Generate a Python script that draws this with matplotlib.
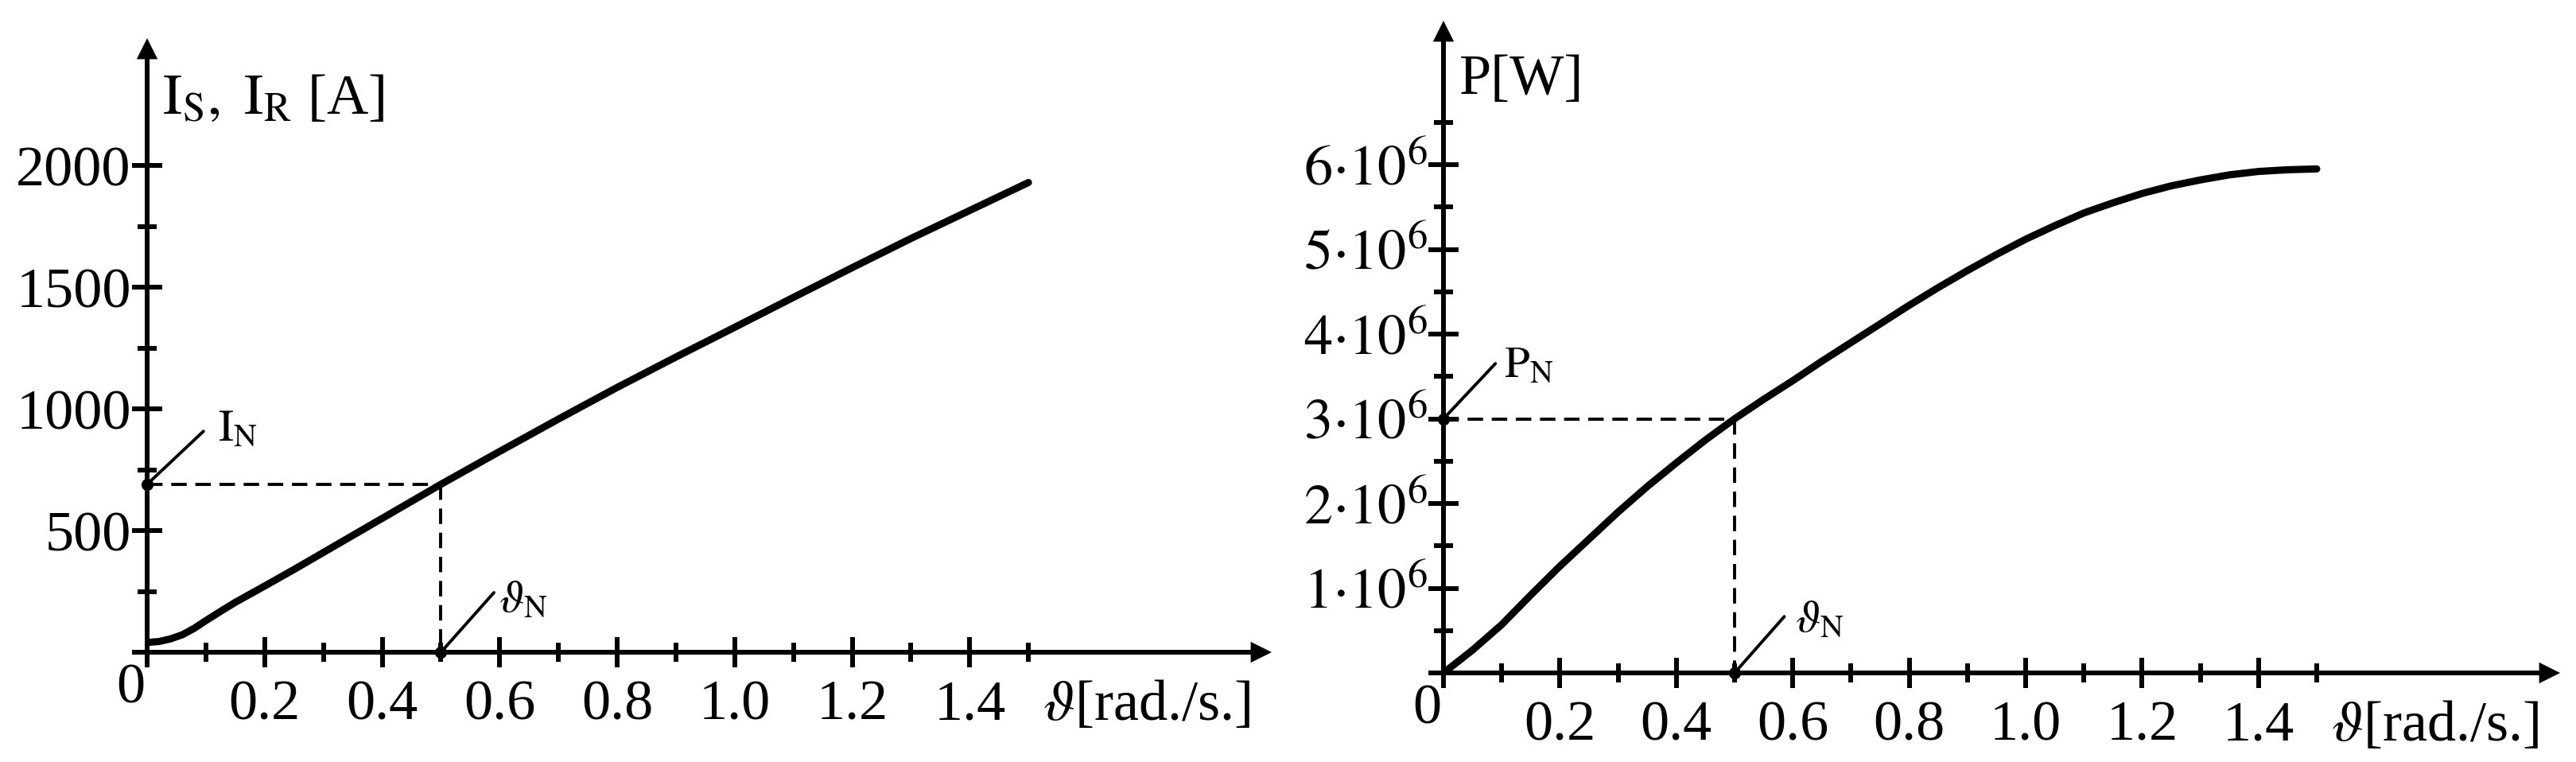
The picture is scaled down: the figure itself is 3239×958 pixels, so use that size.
#!/usr/bin/env python3
"""Stator/rotor current and power vs angle - two panel sketch-style chart."""

import matplotlib
matplotlib.use("Agg")  # non-interactive backend
import matplotlib.pyplot as plt
from matplotlib.ticker import FixedLocator, FixedFormatter

plt.rcParams['font.family'] = ['Liberation Serif', 'DejaVu Serif']
plt.rcParams['mathtext.fontset'] = 'stix'

# ── Data ───────────────────────────────────────────────────────────────
theta_i = [0.0, 0.02, 0.04, 0.06, 0.08, 0.10, 0.125, 0.15, 0.20, 0.25,
           0.30, 0.35, 0.40, 0.45, 0.50, 0.60, 0.70, 0.80, 0.90, 1.00,
           1.10, 1.20, 1.30, 1.40, 1.50]
current = [40, 44, 55, 72, 98, 130, 168, 205, 272, 340,
           410, 480, 550, 620, 690, 825, 958, 1088, 1213, 1335,
           1458, 1580, 1700, 1815, 1930]

theta_p = [0.00, 0.05, 0.10, 0.15, 0.20, 0.25, 0.30, 0.35, 0.40, 0.45,
           0.50, 0.55, 0.60, 0.65, 0.70, 0.75, 0.80, 0.85, 0.90, 0.95,
           1.00, 1.05, 1.10, 1.15, 1.20, 1.25, 1.30, 1.35, 1.40, 1.45, 1.50]
power = [0.00e6, 0.27e6, 0.57e6, 0.92e6, 1.26e6, 1.58e6, 1.90e6, 2.20e6, 2.48e6, 2.75e6,
         3.00e6, 3.23e6, 3.45e6, 3.68e6, 3.90e6, 4.12e6, 4.34e6, 4.55e6, 4.75e6, 4.94e6,
         5.12e6, 5.28e6, 5.43e6, 5.55e6, 5.66e6, 5.75e6, 5.82e6, 5.88e6, 5.92e6, 5.94e6, 5.95e6]

theta_n = 0.5
current_n = 690
power_n = 3.0e6

x_major = [0, 0.2, 0.4, 0.6, 0.8, 1.0, 1.2, 1.4]
x_labels = ['', '0.2', '0.4', '0.6', '0.8', '1.0', '1.2', '1.4']
x_minor = [0.1, 0.3, 0.5, 0.7, 0.9, 1.1, 1.3, 1.5]

i_major = [0, 500, 1000, 1500, 2000]
i_labels = ['', '500', '1000', '1500', '2000']
i_minor = [250, 750, 1250, 1750]

p_major = [0, 1e6, 2e6, 3e6, 4e6, 5e6, 6e6]
p_labels = [''] + [r'$\mathrm{%d{\cdot}10^{6}}$' % k for k in range(1, 7)]
p_minor = [0.5e6, 1.5e6, 2.5e6, 3.5e6, 4.5e6, 5.5e6, 6.5e6]

# ── Layout ─────────────────────────────────────────────────────────────
W, H = 3239, 958
fig = plt.figure(figsize=(W / 100, H / 100), dpi=100)


def px_axes(left, right, bottom, top):
    # pixel coordinates measured from the top-left corner of the image
    return fig.add_axes([left / W, 1 - bottom / H, (right - left) / W, (bottom - top) / H])


LW_AX = 4.3
LW_THIN = 2.8
FS = 52
FS_ANN = 41


def style_axes(ax, xmax, ymax, xmaj, xlab, xmin, ymaj, ylab, ymin):
    ax.set_xlim(0, xmax)
    ax.set_ylim(0, ymax)
    ax.patch.set_visible(False)
    for s in ['top', 'right']:
        ax.spines[s].set_visible(False)
    for s in ['left', 'bottom']:
        ax.spines[s].set_linewidth(LW_AX)
        ax.spines[s].set_capstyle('butt')
    ax.spines['bottom'].set_bounds(0, xmax * 0.99)
    ax.spines['left'].set_bounds(0, ymax * 0.99)
    ax.xaxis.set_major_locator(FixedLocator(xmaj))
    ax.xaxis.set_major_formatter(FixedFormatter(xlab))
    ax.xaxis.set_minor_locator(FixedLocator(xmin))
    ax.yaxis.set_major_locator(FixedLocator(ymaj))
    ax.yaxis.set_major_formatter(FixedFormatter(ylab))
    ax.yaxis.set_minor_locator(FixedLocator(ymin))
    ax.tick_params(which='major', direction='inout', length=27, width=LW_AX, labelsize=FS)
    ax.tick_params(which='minor', direction='inout', length=17, width=LW_AX)
    ax.tick_params(axis='x', which='major', pad=11)
    ax.tick_params(axis='y', which='major', pad=1)

    # arrow heads on both axes
    head = dict(arrowstyle='-|>,head_length=1.9,head_width=0.95', mutation_scale=10,
                color='k', lw=0, shrinkA=0, shrinkB=0)
    ax.annotate('', xy=(1, 0), xycoords=ax.get_yaxis_transform(),
                xytext=(-30, 0), textcoords='offset points', arrowprops=head)
    ax.annotate('', xy=(0, 1), xycoords=ax.get_xaxis_transform(),
                xytext=(0, -30), textcoords='offset points', arrowprops=head)

    # origin label and x-axis label
    ax.annotate('0', xy=(0, 0), xytext=(-15, -46), textcoords='offset points',
                ha='center', va='baseline', fontsize=FS)
    ax.annotate(r'$\vartheta$[rad./s.]', xy=(1.524, 0), xytext=(0, -61),
                textcoords='offset points', ha='left', va='baseline', fontsize=FS)


def marker(ax, x, y, text, line_end, text_off):
    ax.plot([x], [y], 'o', color='k', ms=10, clip_on=False, zorder=5)
    ax.annotate('', xy=(x, y), xytext=line_end, textcoords='offset points',
                arrowprops=dict(arrowstyle='-', lw=LW_THIN, color='k', shrinkA=0, shrinkB=0))
    ax.annotate(text, xy=(x, y), xytext=text_off, textcoords='offset points',
                ha='left', va='baseline', fontsize=FS_ANN)


DASH = (0, (5, 2.8))

# ── Left: current ──────────────────────────────────────────────────────
ax1 = px_axes(185, 1599, 820, 48)
style_axes(ax1, 1.914, 2523, x_major, x_labels, x_minor, i_major, i_labels, i_minor)
ax1.plot(theta_i, current, color='k', lw=6.5, solid_capstyle='round')
ax1.plot([0, theta_n], [current_n, current_n], color='k', lw=LW_THIN, ls=DASH)
ax1.plot([theta_n, theta_n], [current_n, 0], color='k', lw=LW_THIN, ls=DASH)
marker(ax1, 0, current_n, r'$\mathrm{I_N}$', (51, 48), (64, 40))
marker(ax1, theta_n, 0, r'$\vartheta_\mathrm{N}$', (48, 54), (52, 37))
ax1.annotate(r'$\mathrm{I_S,\ I_R}$ [A]', xy=(0, 1), xycoords=ax1.get_xaxis_transform(),
             xytext=(14, -68), textcoords='offset points', ha='left', va='baseline', fontsize=FS)

# ── Right: power ───────────────────────────────────────────────────────
ax2 = px_axes(1815, 3219, 846, 26)
style_axes(ax2, 1.918, 7.70e6, x_major, x_labels, x_minor, p_major, p_labels, p_minor)
ax2.plot(theta_p, power, color='k', lw=6.5, solid_capstyle='round')
ax2.plot([0, theta_n], [power_n, power_n], color='k', lw=LW_THIN, ls=DASH)
ax2.plot([theta_n, theta_n], [power_n, 0], color='k', lw=LW_THIN, ls=DASH)
marker(ax2, 0, power_n, r'$\mathrm{P_N}$', (47, 50), (55, 38))
marker(ax2, theta_n, 0, r'$\vartheta_\mathrm{N}$', (45, 51), (55, 38))
ax2.annotate('P[W]', xy=(0, 1), xycoords=ax2.get_xaxis_transform(),
             xytext=(14, -66), textcoords='offset points', ha='left', va='baseline', fontsize=FS)

fig.savefig("out.png", dpi=100)
